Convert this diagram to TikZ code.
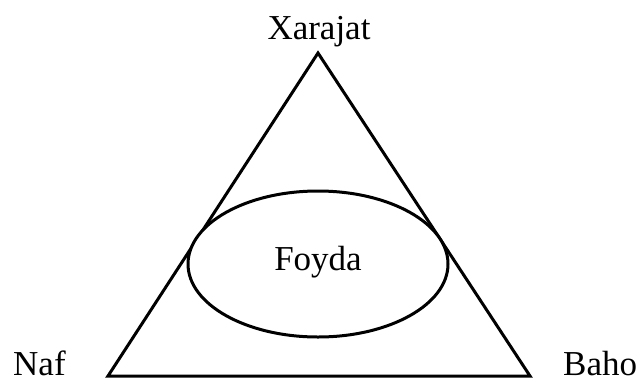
\documentclass[tikz,border=0pt]{standalone}
\usepackage{fontspec}
\setmainfont{Liberation Serif}
\usetikzlibrary{shapes.geometric}
\begin{document}
\begin{tikzpicture}[x=1pt,y=-1pt,
  lbl/.style={font=\fontsize{35}{40}\selectfont, inner sep=0pt},
  edge/.style={line width=3pt, line join=miter}]
\useasboundingbox (0,0) rectangle (639,383);
\coordinate (top) at (318,53);
\coordinate (bl) at (108,376);
\coordinate (br) at (530,376);
\draw[edge] (top) -- (bl) -- (br) -- cycle;
\node[ellipse, draw, line width=3pt, fill=white, minimum width=260pt, minimum height=146pt, inner sep=0pt] (foyda) at (318,264) {};
\node[lbl] (foydat) at (318,262) {Foyda};
\node[lbl, anchor=base] (xarajat) at (319,39) {Xarajat};
\node[lbl, anchor=base west] (naf) at (13,375) {Naf};
\node[lbl, anchor=base west] (baho) at (563,375) {Baho};
\end{tikzpicture}
\end{document}
